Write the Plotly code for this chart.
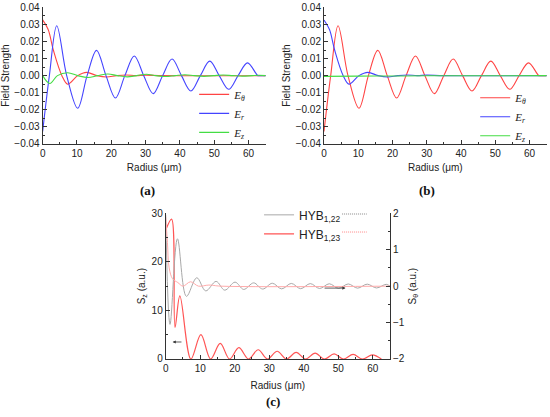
import plotly.graph_objects as go

# ---- panel (a): field components of HYB1,22 ----
a_er_r = [0, 1.95, 4.1, 7.0, 10.2, 12.95, 15.7, 18.45, 21.2, 23.95, 26.7, 29.45, 32.2,
          34.95, 37.7, 40.45, 43.2, 45.95, 48.7, 51.45, 54.2, 56.95, 59.7, 62.7, 63.3, 65]
a_er = [-0.0327, 0, 0.0292, 0, -0.0191, 0, 0.0148, 0, -0.0131, 0, 0.0115, 0, -0.0105,
        0, 0.0097, 0, -0.0090, 0, 0.0085, 0, -0.0080, 0, 0.0075, 0, 0, 0]

a_et_r = [0, 1.6, 3.1, 5.6, 7.3, 10.2, 12.8, 15.8, 18.6, 21.5, 24.3, 27.2, 30.0, 35, 65]
a_et = [0.0326, 0.0270, 0.0150, 0, -0.0050, 0, 0.0019, 0, -0.0008, 0, 0.0004, 0, 0.0003, 0, 0]

a_ez_r = [0, 2.1, 4.3, 7.3, 10.2, 13.2, 16.0, 19.0, 21.8, 24.6, 27.4, 30.2, 33.0, 35.8,
          38.6, 41.4, 44.2, 47.0, 49.8, 52.6, 55.4, 58.2, 61.0, 63.0, 65]
a_ez = [0, -0.0046, 0, 0.0017, 0, -0.0011, 0, 0.0010, 0, -0.0007, 0, 0.0008, 0, -0.0005,
        0, 0.0005, 0, -0.0004, 0, 0.0004, 0, -0.0003, 0, 0.0002, 0]

# ---- panel (b): field components of HYB1,23 (theta and r swap roles) ----
b_et_r, b_et = a_er_r, a_er
b_er_r, b_er = a_et_r, a_et
b_ez_r = [0, 10, 20, 30, 65]
b_ez = [-0.0004, -0.0003, -0.0002, -0.0001, 0]

# ---- panel (c): Poynting components ----
c_sz23_r = [0, 1.7, 2.7, 4.1, 7.3, 10.2, 13.0, 15.8, 18.5, 21.2, 24.0, 26.8, 29.5, 32.3,
            35.0, 37.8, 40.5, 43.3, 46.0, 48.8, 51.5, 54.3, 57.0, 59.9, 62.5]
c_sz23 = [26.5, 28.8, 6.5, 13.0, 0, 5.0, 0, 3.2, 0, 2.35, 0, 1.9, 0, 1.6,
          0, 1.35, 0, 1.2, 0, 1.05, 0, 0.95, 0, 0.85, 0]

c_st22_r = [0, 1.25, 3.4, 6.0, 9.0, 11.6, 14.6, 17.1, 20.1, 22.6, 25.5, 28.1, 30.9, 33.6,
            36.4, 39.1, 41.9, 44.6, 47.4, 50.1, 52.9, 55.6, 58.4, 61.1, 63.9, 65]
c_st22 = [1.95, -1.05, 1.3, -0.28, 0.23, -0.13, 0.13, -0.11, 0.11, -0.09, 0.09, -0.08, 0.08, -0.075,
          0.075, -0.07, 0.07, -0.065, 0.065, -0.06, 0.06, -0.055, 0.055, -0.05, 0.05, 0]

c_st23_r = [0, 0.5, 1.0, 2.0, 3.5, 5.0, 7.2, 9.5, 12.5, 16, 65]
c_st23 = [1.9, 1.2, 0.5, 0.2, 0.1, 0.0, 0.12, 0.0, 0.03, 0, 0]

RED, BLUE, GREEN = "#ff4444", "#4444ff", "#44dd44"
AX = "#333333"
SANS = "Liberation Sans, Arial, sans-serif"
SERIF = "Liberation Serif, Times New Roman, serif"


def axis(**kw):
    d = dict(showline=True, linecolor=AX, linewidth=1, ticks="inside", ticklen=4,
             tickcolor=AX, showgrid=False, zeroline=False, automargin=False,
             tickfont=dict(family=SANS, size=10, color="#222"))
    d.update(kw)
    return d


def wave(x, y, color, name, xa, ya, lg, show=True, width=1.1):
    return go.Scatter(x=x, y=y, mode="lines", name=name, line=dict(color=color, width=width,
                      shape="spline", smoothing=1.0), xaxis=xa, yaxis=ya, legend=lg,
                      showlegend=show, hoverinfo="skip")


E_T = "<i>E</i><sub><i>θ</i></sub>"
E_R = "<i>E</i><sub><i>r</i></sub>"
E_Z = "<i>E</i><sub><i>z</i></sub>"

fig = go.Figure()
fig.add_trace(wave(a_et_r, a_et, RED, E_T, "x", "y", "legend"))
fig.add_trace(wave(a_er_r, a_er, BLUE, E_R, "x", "y", "legend"))
fig.add_trace(wave(a_ez_r, a_ez, GREEN, E_Z, "x", "y", "legend"))

fig.add_trace(wave(b_et_r, b_et, RED, E_T, "x2", "y2", "legend2"))
fig.add_trace(wave(b_er_r, b_er, BLUE, E_R, "x2", "y2", "legend2"))
fig.add_trace(wave(b_ez_r, b_ez, GREEN, E_Z, "x2", "y2", "legend2"))

fig.add_trace(wave(c_st22_r, c_st22, "#a8a8a8", "HYB<sub>1,22</sub>", "x3", "y4", "legend3", width=1))
fig.add_trace(wave(c_st23_r, c_st23, "#ffaaaa", "st23", "x3", "y4", "legend3", show=False, width=1))
fig.add_trace(wave(c_sz23_r, c_sz23, "#ff5555", "HYB<sub>1,23</sub>", "x3", "y3", "legend3", width=1.2))

TF = dict(family=SANS, size=10, color="#222")
xt = dict(text="Radius (μm)", font=TF, standoff=6)
xt_c = dict(text="Radius (μm)", font=TF, standoff=9)
fs = dict(text="Field Strength", font=TF, standoff=3)
minor_x = dict(ticks="inside", ticklen=2, tickcolor=AX, dtick=5)
minor_y = dict(ticks="inside", ticklen=2, tickcolor=AX, dtick=0.005)

leg = dict(xanchor="left", yanchor="middle", bgcolor="rgba(0,0,0,0)", borderwidth=0,
           font=dict(family=SERIF, size=11, color="#222"))

fig.update_layout(
    width=550, height=417, margin=dict(l=0, r=0, t=0, b=0),
    paper_bgcolor="white", plot_bgcolor="white",
    font=dict(family=SANS, size=10, color="#222"),
    xaxis=axis(domain=[0.0776, 0.4831], range=[0, 65], dtick=10, anchor="y", title=xt, minor=minor_x),
    yaxis=axis(domain=[0.6547, 0.9825], range=[-0.04, 0.04], dtick=0.01, tickformat=".2f",
               anchor="x", title=fs, minor=minor_y),
    xaxis2=axis(domain=[0.5891, 0.994], range=[0, 65], dtick=10, anchor="y2", title=xt, minor=minor_x),
    yaxis2=axis(domain=[0.6547, 0.9825], range=[-0.04, 0.04], dtick=0.01, tickformat=".2f",
                anchor="x2", title=fs, minor=minor_y),
    xaxis3=axis(domain=[0.3013, 0.7091], range=[0, 65], dtick=10, anchor="y3", title=xt_c, minor=minor_x),
    yaxis3=axis(domain=[0.1391, 0.4885], range=[0, 30], dtick=10, anchor="x3",
                title=dict(text="S<sub>z</sub> (a.u.)", font=TF, standoff=4),
                minor=dict(ticks="inside", ticklen=2, tickcolor=AX, dtick=5)),
    yaxis4=axis(overlaying="y3", side="right", anchor="x3", range=[-2, 2], dtick=1,
                title=dict(text="S<sub>θ</sub> (a.u.)", font=TF, standoff=5),
                minor=dict(ticks="inside", ticklen=2, tickcolor=AX, dtick=0.5)),
    legend=dict(leg, x=0.353, y=0.728),
    legend2=dict(leg, x=0.864, y=0.720),
    legend3=dict(leg, x=0.471, y=0.462, font=dict(family=SANS, size=12, color="#222")),
)

# dotted samples after the legend labels of (c)
for yy, col in [(0.4868, "#888888"), (0.4436, "#ff8888")]:
    fig.add_shape(type="line", xref="paper", yref="paper", x0=0.622, x1=0.667, y0=yy, y1=yy,
                  line=dict(color=col, width=1, dash="1px,1px"))

# direction arrows in (c)
fig.add_annotation(x=2.0, y=3.5, ax=5.0, ay=3.5, xref="x3", yref="y3", axref="x3", ayref="y3",
                   showarrow=True, arrowhead=2, arrowsize=0.8, arrowwidth=0.8, arrowcolor=AX, text="")
fig.add_annotation(x=52.1, y=14.6, ax=45.6, ay=14.6, xref="x3", yref="y3", axref="x3", ayref="y3",
                   showarrow=True, arrowhead=2, arrowsize=0.8, arrowwidth=0.8, arrowcolor=AX, text="")

for lab, px, py in [("(a)", 0.269, 0.544), ("(b)", 0.776, 0.544), ("(c)", 0.496, 0.036)]:
    fig.add_annotation(text="<b>" + lab + "</b>", x=px, y=py, xref="paper", yref="paper",
                       xanchor="center", yanchor="middle", showarrow=False,
                       font=dict(family=SERIF, size=13, color="#111"))

# the page body has a default 8px margin; remove it so the figure sits at the window corner
fig.write_html("out.html", config={"displayModeBar": False},
               post_script="document.body.style.margin='0';")
